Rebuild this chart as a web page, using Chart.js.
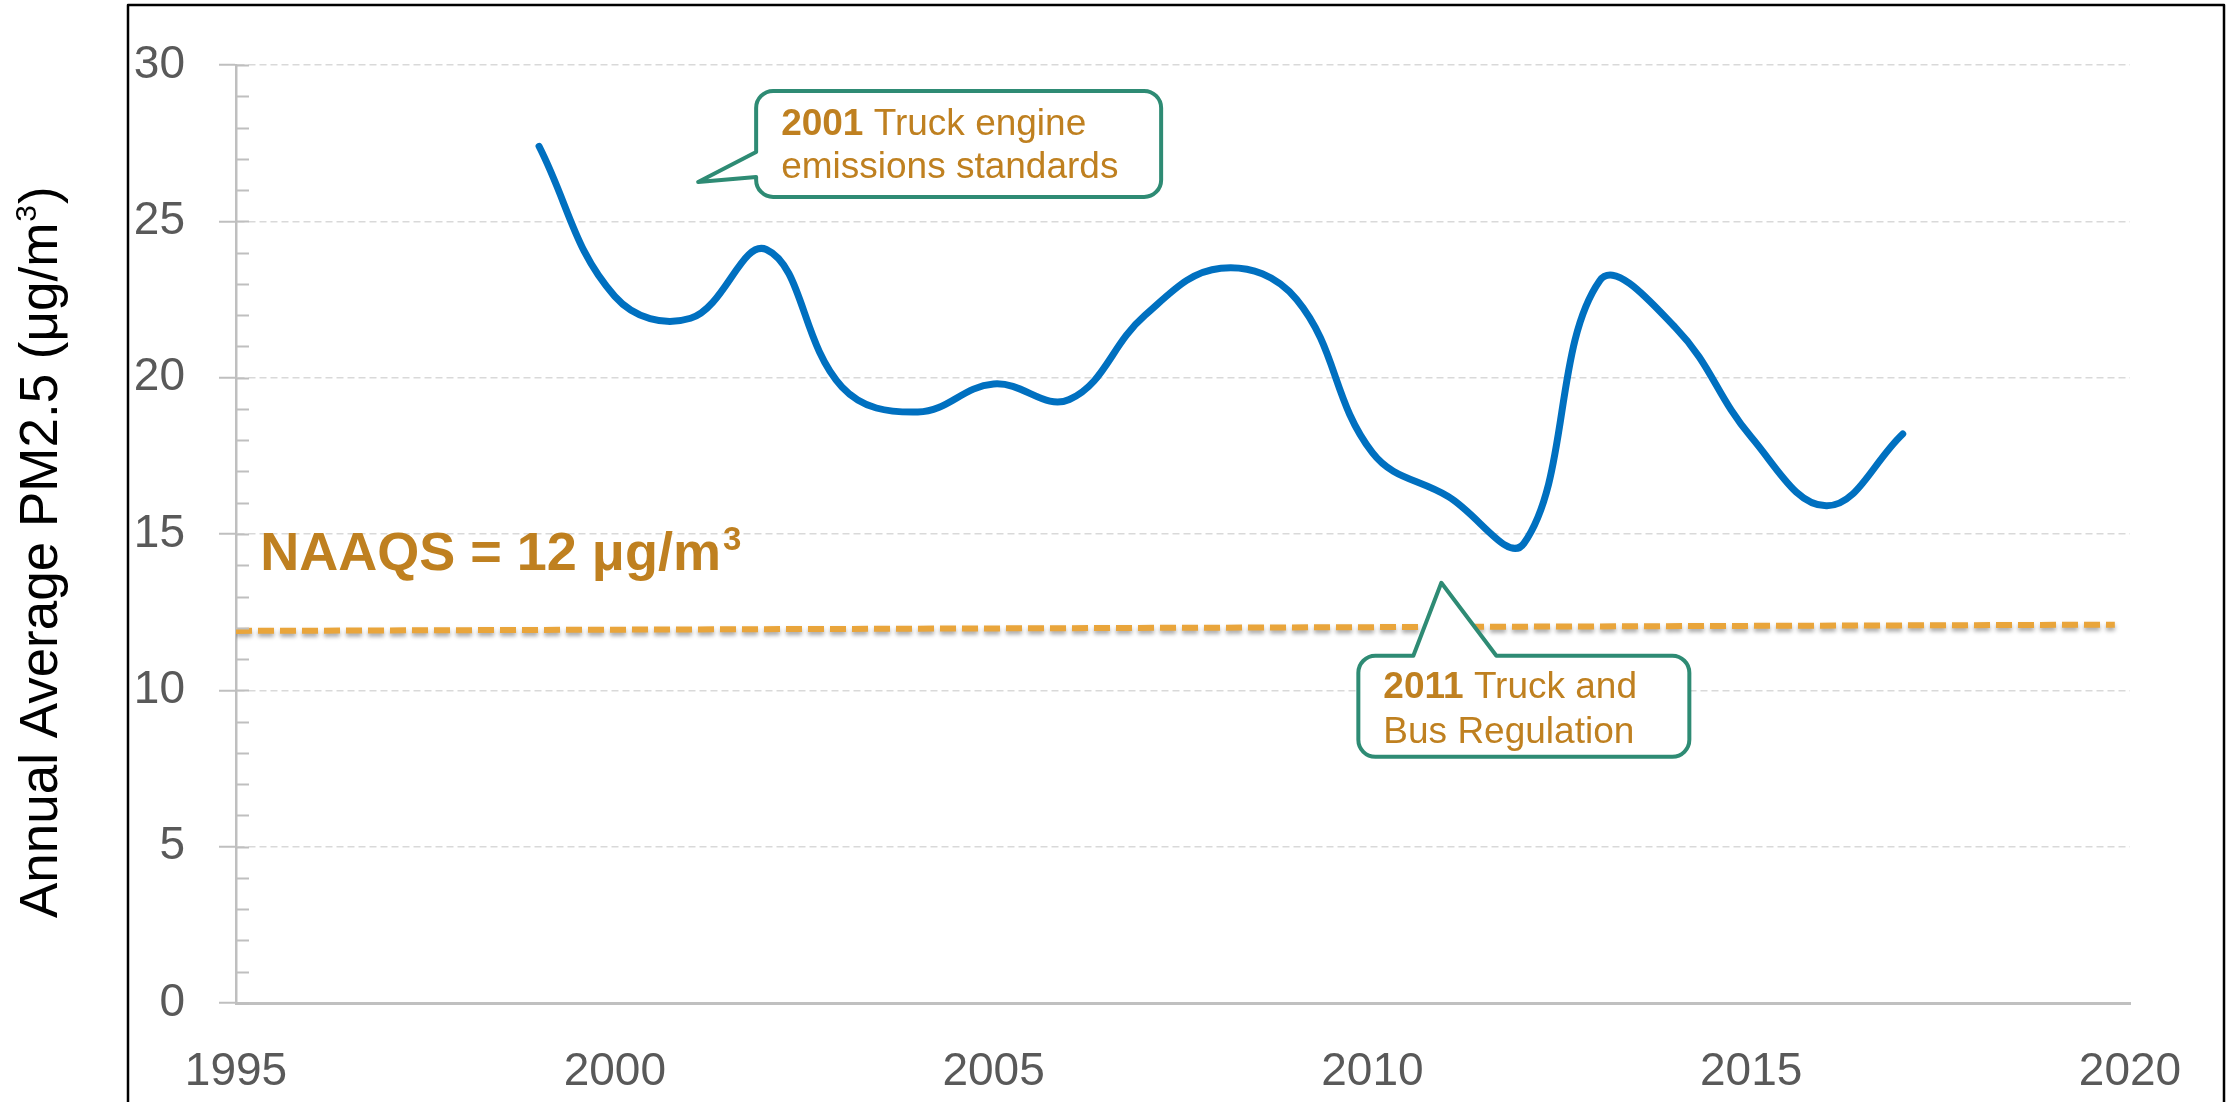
<!DOCTYPE html>
<html>
<head>
<meta charset="utf-8">
<script src="https://cdn.jsdelivr.net/npm/chart.js@4.4.1/dist/chart.umd.min.js"></script>
<style>
  html, body { margin: 0; padding: 0; background: #fff; }
  canvas { display: block; }
</style>
</head>
<body>
<canvas id="pmChart" width="2231" height="1102"></canvas>
<script>
// Annual average PM2.5 (ug/m3) by year
const years = [1999, 2000, 2001, 2002, 2003, 2004, 2005, 2006, 2007, 2008,
               2009, 2010, 2011, 2012, 2013, 2014, 2015, 2016, 2017];
const pm25 = [27.4, 22.6, 21.9, 24.1, 19.7, 18.9, 19.8, 19.3, 22.0, 23.5,
              22.5, 17.6, 16.2, 14.7, 23.1, 21.6, 18.1, 15.9, 18.2];

// NAAQS standard line (slightly slanted in the original drawing)
const naaqsYears = [1995, 2019.8];
const naaqsValues = [11.9, 12.1];

// tick labels
const yearTicks = [1995, 2000, 2005, 2010, 2015, 2020];
const pmTicks = [0, 5, 10, 15, 20, 25, 30];

// texts
const calloutBold = ['2001', '2011'];
const calloutLine1 = [' Truck engine', ' Truck and'];
const calloutLine2 = ['emissions standards', 'Bus Regulation'];
const naaqsLabel = 'NAAQS = 12 \u03bcg/m';
const yTitle = ['Annual Average PM2.5 (\u03bcg/m', '3', ')'];

const TEXT_GOLD = '#BF8020';
const TEAL = '#2E8B74';
const FONT = '"Liberation Sans", Arial, sans-serif';

Chart.defaults.font.family = FONT;

// shadow under the dashed NAAQS line
const shadowPlugin = {
    id: 'shadow',
    beforeDatasetDraw(chart, args) {
        if (args.index !== 1) return;
        const ctx = chart.ctx;
        ctx.save();
        ctx.shadowColor = 'rgba(0,0,0,0.35)';
        ctx.shadowOffsetY = 3;
        ctx.shadowBlur = 4;
    },
    afterDatasetDraw(chart, args) {
        if (args.index !== 1) return;
        chart.ctx.restore();
    }
};

function drawCallout(ctx, c)
{
    const L = c.left, T = c.top, R = c.left + c.w, B = c.top + c.h, r = 17;
    ctx.beginPath();
    if (c.side === 'left') {
        ctx.moveTo(L + r, T);
        ctx.lineTo(R - r, T);
        ctx.arcTo(R, T, R, T + r, r);
        ctx.lineTo(R, B - r);
        ctx.arcTo(R, B, R - r, B, r);
        ctx.lineTo(L + r, B);
        ctx.arcTo(L, B, L, B - r, r);
        ctx.lineTo(L, T + c.p2);
        ctx.lineTo(c.tipX, c.tipY);
        ctx.lineTo(L, T + c.p1);
        ctx.lineTo(L, T + r);
        ctx.arcTo(L, T, L + r, T, r);
    } else {
        ctx.moveTo(L + r, T);
        ctx.lineTo(L + c.p1, T);
        ctx.lineTo(c.tipX, c.tipY);
        ctx.lineTo(L + c.p2, T);
        ctx.lineTo(R - r, T);
        ctx.arcTo(R, T, R, T + r, r);
        ctx.lineTo(R, B - r);
        ctx.arcTo(R, B, R - r, B, r);
        ctx.lineTo(L + r, B);
        ctx.arcTo(L, B, L, B - r, r);
        ctx.lineTo(L, T + r);
        ctx.arcTo(L, T, L + r, T, r);
    }
    ctx.closePath();
    ctx.fillStyle = '#fff';
    ctx.fill();
    ctx.lineWidth = 4;
    ctx.lineJoin = 'round';
    ctx.strokeStyle = TEAL;
    ctx.stroke();

    ctx.fillStyle = TEXT_GOLD;
    ctx.textBaseline = 'alphabetic';
    ctx.textAlign = 'left';
    ctx.font = 'bold 37px ' + FONT;
    ctx.fillText(c.bold, L + 25, T + c.b1);
    const bw = ctx.measureText(c.bold).width;
    ctx.font = '37px ' + FONT;
    ctx.fillText(c.line1, L + 25 + bw, T + c.b1);
    ctx.fillText(c.line2, L + 25, T + c.b2);
}

const decorPlugin = {
    id: 'decor',
    afterDraw(chart) {
        const ctx = chart.ctx;
        const xs = chart.scales.x, ys = chart.scales.y;
        const area = chart.chartArea;
        ctx.save();

        // minor ticks inside the y axis
        ctx.strokeStyle = '#bfbfbf';
        ctx.lineWidth = 2;
        for (let v = 0; v <= 30; v++) {
            const py = Math.round(ys.getPixelForValue(v)) + 0.5;
            ctx.beginPath();
            ctx.moveTo(area.left, py);
            ctx.lineTo(area.left + 13, py);
            ctx.stroke();
        }

        // y axis title with a real superscript
        ctx.save();
        ctx.translate(57, 918);
        ctx.rotate(-Math.PI / 2);
        ctx.fillStyle = '#000';
        ctx.textAlign = 'left';
        ctx.textBaseline = 'alphabetic';
        ctx.font = '53px ' + FONT;
        ctx.fillText(yTitle[0], 0, 0);
        let tx = ctx.measureText(yTitle[0]).width + 1;
        ctx.font = '30px ' + FONT;
        ctx.fillText(yTitle[1], tx, -21);
        tx += ctx.measureText(yTitle[1]).width + 1;
        ctx.font = '53px ' + FONT;
        ctx.fillText(yTitle[2], tx, 0);
        ctx.restore();

        // NAAQS label
        ctx.fillStyle = TEXT_GOLD;
        ctx.font = 'bold 54px ' + FONT;
        ctx.textAlign = 'left';
        ctx.textBaseline = 'alphabetic';
        const nx = xs.getPixelForValue(1995.32), ny = ys.getPixelForValue(13.86);
        ctx.fillText(naaqsLabel, nx, ny);
        const nw = ctx.measureText(naaqsLabel).width;
        ctx.font = 'bold 33px ' + FONT;
        ctx.fillText('3', nx + nw + 2, ny - 20);

        // callouts
        drawCallout(ctx, {
            side: 'left',
            tipX: xs.getPixelForValue(2001.1), tipY: ys.getPixelForValue(26.26),
            left: xs.getPixelForValue(2001.1) + 58, top: ys.getPixelForValue(26.26) - 91,
            w: 405, h: 106, p1: 61, p2: 86, b1: 44, b2: 87,
            bold: calloutBold[0], line1: calloutLine1[0], line2: calloutLine2[0]
        });
        drawCallout(ctx, {
            side: 'top',
            tipX: xs.getPixelForValue(2010.91), tipY: ys.getPixelForValue(13.44),
            left: xs.getPixelForValue(2010.91) - 83, top: ys.getPixelForValue(13.44) + 73,
            w: 331, h: 101, p1: 55, p2: 138, b1: 42, b2: 87,
            bold: calloutBold[1], line1: calloutLine1[1], line2: calloutLine2[1]
        });

        // outer frame
        ctx.strokeStyle = '#000';
        ctx.lineWidth = 2.5;
        ctx.strokeRect(128, 5, 2096, 1200);
        ctx.restore();
    }
};

const ctx = document.getElementById('pmChart').getContext('2d');
new Chart(ctx, {
    type: 'line',
    data: {
        datasets: [{
            label: 'PM2.5',
            data: years.map((yr, i) => ({x: yr, y: pm25[i]})),
            borderColor: '#0070C0',
            borderWidth: 7,
            borderCapStyle: 'round',
            borderJoinStyle: 'round',
            tension: 0.4,
            pointRadius: 0,
            fill: false
        }, {
            label: 'NAAQS',
            data: naaqsYears.map((yr, i) => ({x: yr, y: naaqsValues[i]})),
            borderColor: '#E9A53B',
            borderWidth: 6,
            borderDash: [16, 6],
            pointRadius: 0,
            tension: 0,
            fill: false
        }]
    },
    options: {
        responsive: false,
        animation: false,
        layout: {
            padding: {left: 0, top: 65, right: 101, bottom: 0}
        },
        plugins: {
            legend: {display: false},
            tooltip: {enabled: false}
        },
        scales: {
            x: {
                type: 'linear',
                min: 1995,
                max: 2020,
                afterBuildTicks: scale => { scale.ticks = yearTicks.map(v => ({value: v})); },
                afterFit: scale => { scale.height = 99; },
                grid: {display: false, drawTicks: false},
                border: {display: true, color: '#c0c0c0', width: 3},
                ticks: {
                    color: '#595959',
                    font: {size: 46},
                    padding: 42,
                    maxRotation: 0,
                    autoSkip: false,
                    callback: v => String(v)
                }
            },
            y: {
                type: 'linear',
                min: 0,
                max: 30,
                afterBuildTicks: scale => { scale.ticks = pmTicks.map(v => ({value: v})); },
                afterFit: scale => { scale.width = 236; },
                grid: {
                    color: '#d9d9d9',
                    lineWidth: 1.5,
                    tickLength: 17,
                    tickColor: '#bfbfbf',
                    tickWidth: 2
                },
                border: {display: true, color: '#bfbfbf', width: 2.5, dash: [7, 4]},
                ticks: {
                    color: '#595959',
                    font: {size: 46},
                    padding: 34
                }
            }
        }
    },
    plugins: [shadowPlugin, decorPlugin]
});
</script>
</body>
</html>
